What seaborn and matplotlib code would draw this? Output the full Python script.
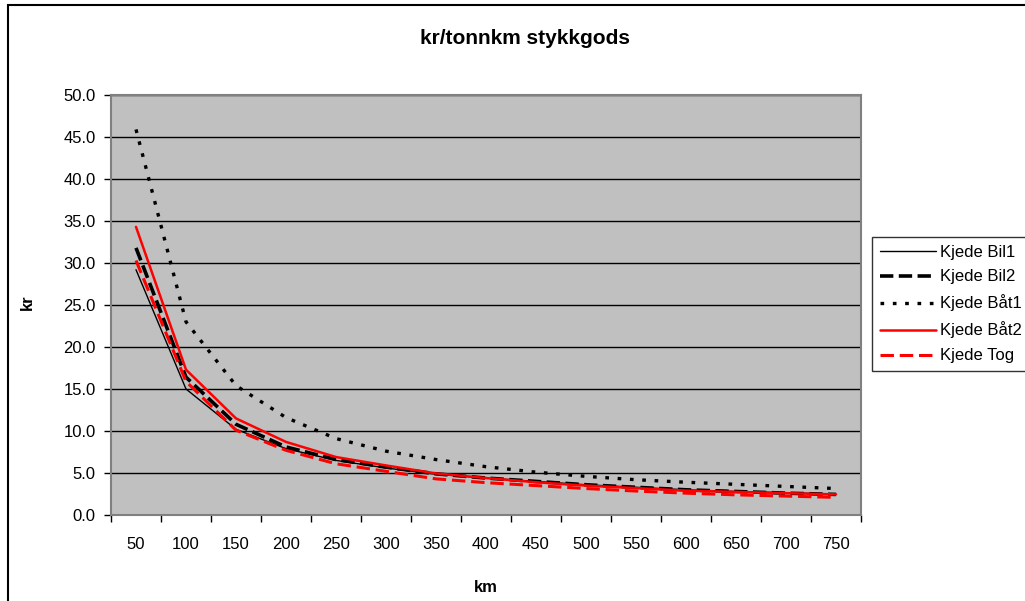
import matplotlib
matplotlib.use("Agg")
import matplotlib.pyplot as plt
import seaborn as sns
import numpy as np
from matplotlib.patches import Rectangle

# data
km = ["50", "100", "150", "200", "250", "300", "350", "400",
      "450", "500", "550", "600", "650", "700", "750"]
bil1 = [29.2, 15.0, 10.2, 7.9, 6.5, 5.6, 4.85, 4.4, 4.0, 3.6, 3.3, 3.0, 2.8, 2.65, 2.5]
bil2 = [31.8, 16.4, 10.8, 8.1, 6.6, 5.7, 4.9, 4.4, 4.0, 3.6, 3.3, 3.0, 2.8, 2.6, 2.45]
baat1 = [45.9, 23.0, 15.4, 11.6, 9.1, 7.6, 6.6, 5.75, 5.1, 4.6, 4.2, 3.9, 3.65, 3.4, 3.15]
baat2 = [34.3, 17.3, 11.5, 8.7, 6.9, 5.9, 4.95, 4.4, 3.9, 3.5, 3.2, 2.9, 2.75, 2.6, 2.45]
tog = [30.3, 15.9, 10.1, 7.7, 6.1, 5.2, 4.3, 3.85, 3.5, 3.15, 2.85, 2.6, 2.4, 2.25, 2.1]

series = [
    ("Kjede Bil1", bil1, "black", 1.0, "-"),
    ("Kjede Bil2", bil2, "black", 2.6, (0, (3.7, 1.5))),
    ("Kjede Båt1", baat1, "black", 2.4, (0, (1.1, 2.6))),
    ("Kjede Båt2", baat2, "#ff0000", 1.8, "-"),
    ("Kjede Tog", tog, "#ff0000", 2.2, (0, (4.4, 1.9))),
]

sns.set_style("white")
plt.rcParams['font.family'] = ['Liberation Sans', 'DejaVu Sans']
plt.rcParams.update({"text.color": "black", "axes.labelcolor": "black",
                     "xtick.color": "black", "ytick.color": "black"})

fig = plt.figure(figsize=(10.25, 6.01), dpi=100)
ax = fig.add_axes([111 / 1025, 1 - 515 / 601, 750 / 1025, 420 / 601])
ax.set_facecolor("#c0c0c0")

for name, vals, col, lw, ls in series:
    sns.lineplot(x=km, y=vals, ax=ax, color=col, linewidth=lw,
                 linestyle=ls, label=name, sort=False)

# axes and grid
ax.set_xlim(-0.5, len(km) - 0.5)
ax.set_ylim(0, 50)
yt = np.arange(0, 50.1, 5)
ax.set_yticks(yt)
ax.set_yticklabels([f"{v:.1f}" for v in yt], fontsize=12)
ax.set_xticks(np.arange(-0.5, len(km), 1.0))
ax.set_xticklabels([])
ax.set_xticks(np.arange(len(km)), minor=True)
ax.set_xticklabels(km, minor=True, fontsize=12)
ax.tick_params(axis="x", which="major", direction="out", length=5, width=1, color="black", bottom=True)
ax.tick_params(axis="x", which="minor", length=0, pad=16)
ax.tick_params(axis="y", direction="out", length=5, width=1, color="black", left=True, pad=6)
ax.yaxis.grid(True, color="black", linewidth=1.0)
ax.set_axisbelow(True)
for s in ax.spines.values():
    s.set_color("#808080")
    s.set_linewidth(1.5)

ax.set_xlabel("")
ax.set_ylabel("")
fig.text(486 / 1025, 1 - 588 / 601, "km", ha="center", va="center", fontsize=12, fontweight="bold")
fig.text(27 / 1025, 1 - 302 / 601, "kr", ha="center", va="center", fontsize=12, fontweight="bold", rotation=90)
fig.text(525 / 1025, 1 - 38 / 601, "kr/tonnkm stykkgods", ha="center", va="center", fontsize=15, fontweight="bold")

# legend on the right
ax.get_legend().remove()
handles, labels = ax.get_legend_handles_labels()
leg = fig.legend(handles, labels, loc="upper left",
                 bbox_to_anchor=(872 / 1025, 1 - 237 / 601, 0.2, 0.0),
                 borderaxespad=0, fontsize=12, frameon=True, fancybox=False,
                 handlelength=3.4, handletextpad=0.2, labelspacing=0.6,
                 borderpad=0.45)
leg.get_frame().set_edgecolor("black")
leg.get_frame().set_linewidth(1.0)

# outer chart border (runs past right and bottom edges)
fig.patches.append(Rectangle((8 / 1025, -0.1), 1.2, 1 - 5 / 601 + 0.1,
                             transform=fig.transFigure, fill=False,
                             edgecolor="black", linewidth=1.5))

fig.savefig("out.png", dpi=100)
